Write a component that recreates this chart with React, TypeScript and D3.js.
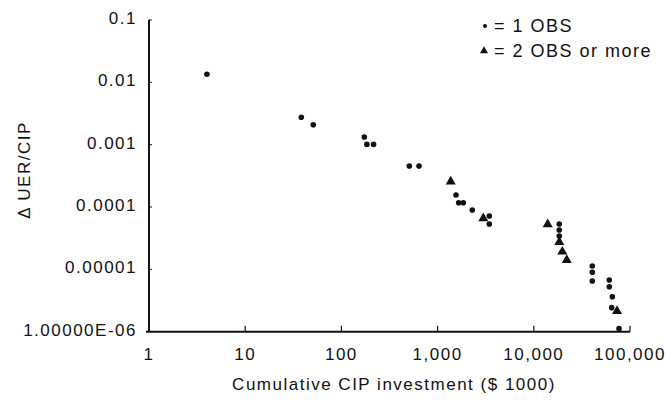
import React from "react";
import * as d3 from "d3";

const xTickValues = [1, 10, 100, 1000, 10000, 100000];
const xTickLabels = ["1", "10", "100", "1,000", "10,000", "100,000"];
const yTickValues = [0.1, 0.01, 0.001, 0.0001, 0.00001, 0.000001];
const yTickLabels = ["0.1", "0.01", "0.001", "0.0001", "0.00001", "1.00000E-06"];

// single observations (circles): [cumulative CIP, ΔUER/CIP]
const oneObsX = [4.0, 38.3, 51, 173, 184, 216, 508, 641, 1553, 1656, 1849, 2294, 3447, 3447, 18400, 18400, 18400, 40550, 40550, 40550, 60900, 60900, 65500, 64500, 76900];
const oneObsY = [0.0135, 0.00275, 0.00209, 0.00133, 0.00101, 0.00101, 0.000455, 0.000455, 0.000156, 0.000117, 0.000117, 0.0000895, 0.0000718, 0.0000535, 0.0000535, 0.0000428, 0.0000343, 0.0000113, 0.00000897, 0.0000065, 0.00000675, 0.00000527, 0.00000364, 0.00000243, 0.00000112];

// two or more observations (triangles)
const multiObsX = [1368, 2985, 13940, 18400, 19800, 22000, 73300];
const multiObsY = [0.000255, 0.0000659, 0.0000528, 0.0000275, 0.0000192, 0.0000141, 0.00000215];

const FONT = "'Liberation Sans', Arial, Helvetica, sans-serif";
const INK = "#111";

export default function App() {
  const x = d3.scaleLog().domain([1, 100000]).range([149, 630]);
  const y = d3.scaleLog().domain([0.000001, 0.1]).range([331.7, 20]);
  const tri = d3.symbol().type(d3.symbolTriangle).size(44)() as string;
  const triLegend = d3.symbol().type(d3.symbolTriangle).size(28)() as string;

  const ones = oneObsX.map((v, i) => ({ x: v, y: oneObsY[i] }));
  const multis = multiObsX.map((v, i) => ({ x: v, y: multiObsY[i] }));

  const textStyle = { fontFamily: FONT, fontSize: 17, fill: INK, letterSpacing: "1.5px" } as const;
  const legendStyle = { fontFamily: FONT, fontSize: 18, fill: INK, letterSpacing: "1.5px" } as const;

  return (
    <svg width={665} height={402} style={{ position: "absolute", left: 0, top: 0, background: "#fff" }}>
      {/* axes */}
      <line x1={x(1)} x2={x(1)} y1={y(0.1)} y2={y(0.000001)} stroke={INK} strokeWidth={2} />
      <line x1={x(1) - 3} x2={x(100000)} y1={y(0.000001)} y2={y(0.000001)} stroke={INK} strokeWidth={2} />
      {xTickValues.map((v, i) => (
        <g key={"xt" + i}>
          {i > 0 && (
            <line x1={x(v)} x2={x(v)} y1={y(0.000001)} y2={y(0.000001) - 6} stroke={INK} strokeWidth={1.2} />
          )}
          <text x={x(v)} y={360} textAnchor="middle" style={textStyle}>
            {xTickLabels[i]}
          </text>
        </g>
      ))}
      {yTickValues.map((v, i) => (
        <g key={"yt" + i}>
          {i < yTickValues.length - 1 && (
            <line x1={x(1)} x2={x(1) + 3} y1={y(v)} y2={y(v)} stroke={INK} strokeWidth={1} />
          )}
          <text x={137} y={y(v) + 4} textAnchor="end" style={textStyle}>
            {yTickLabels[i]}
          </text>
        </g>
      ))}

      {/* axis titles */}
      <text x={394} y={390} textAnchor="middle" style={textStyle}>
        Cumulative CIP investment ($ 1000)
      </text>
      <text transform="translate(30,170) rotate(-90)" textAnchor="middle" style={textStyle}>
        Δ UER/CIP
      </text>

      {/* data */}
      {ones.map((d, i) => (
        <circle key={"c" + i} cx={x(d.x)} cy={y(d.y)} r={2.8} fill={INK} />
      ))}
      {multis.map((d, i) => (
        <path key={"t" + i} d={tri} transform={`translate(${x(d.x)},${y(d.y)})`} fill={INK} />
      ))}

      {/* legend */}
      <circle cx={485} cy={26} r={2} fill={INK} />
      <text x={494} y={31.5} style={legendStyle}>= 1 OBS</text>
      <path d={triLegend} transform="translate(484,51)" fill={INK} />
      <text x={494} y={56.5} style={legendStyle}>= 2 OBS or more</text>
    </svg>
  );
}
